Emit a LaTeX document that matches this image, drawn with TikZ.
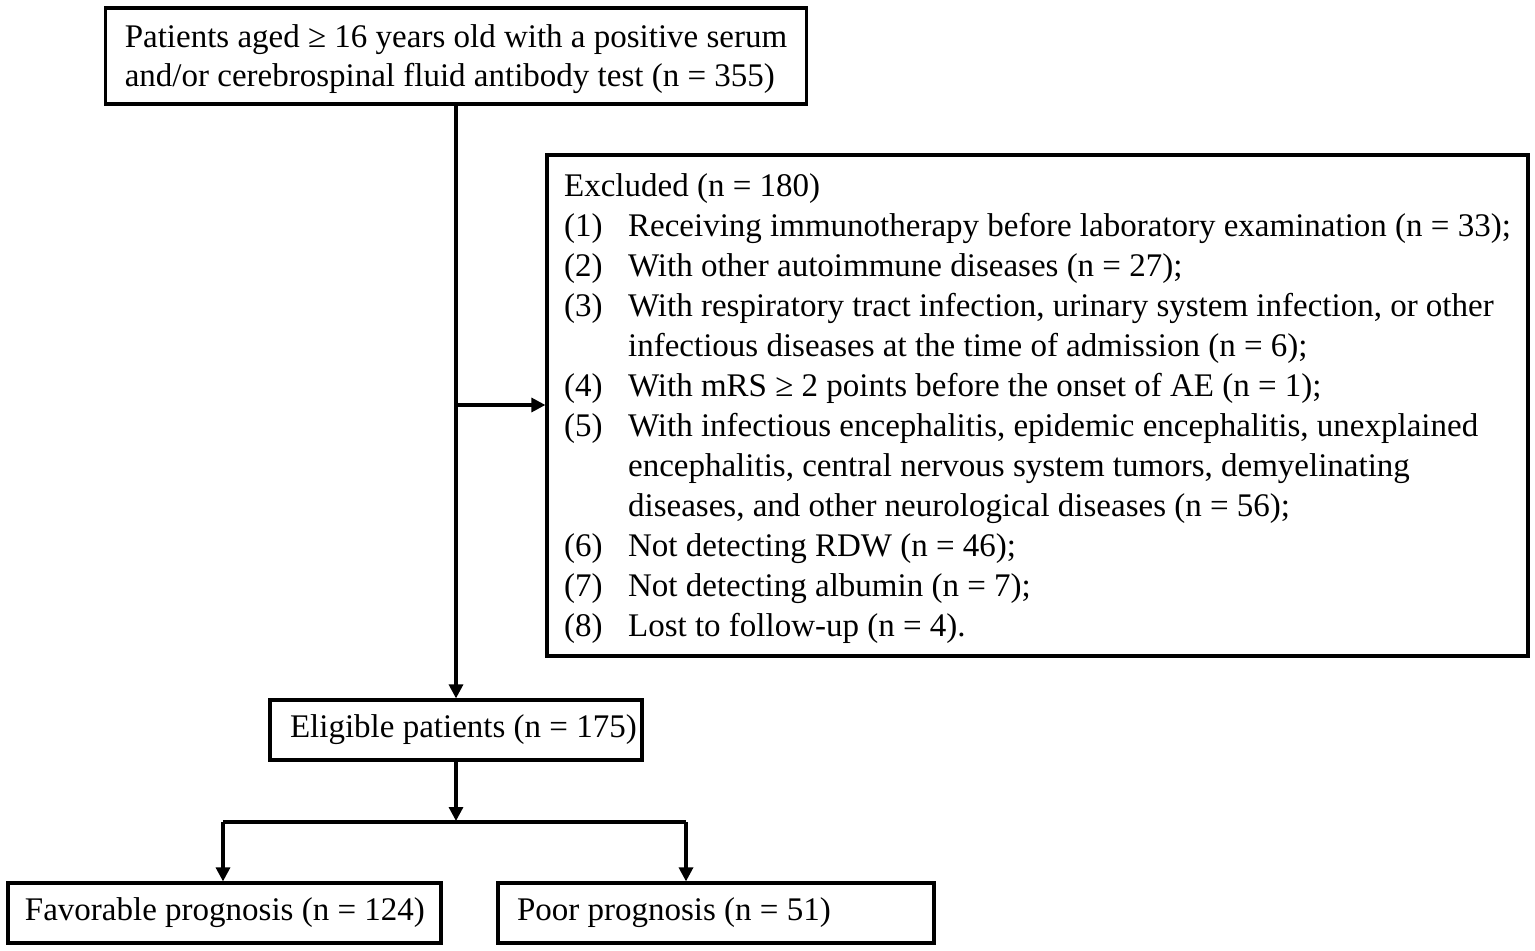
\documentclass[tikz,border=0pt]{standalone}
\usepackage{fontspec}
\usepackage{tikz}
\usetikzlibrary{arrows.meta}
\setmainfont{Liberation Serif}

\tikzset{
  box/.style={draw, line width=1.6pt, inner ysep=0pt, align=left, font=\fontsize{16.5}{19.5}\selectfont},
  leftbox/.style={box, align=flush left, inner xsep=9.5pt, text width=#1, minimum height=30pt},
  arr/.style={line width=1.6pt, -{Triangle[length=7pt,width=7pt]}},
  bar/.style={line width=1.6pt}
}

\begin{document}
\begin{tikzpicture}[x=0.5pt,y=-0.5pt]
\useasboundingbox (0,0) rectangle (1535,951);

% definitions
\node[box, inner xsep=0pt, minimum width=350.5pt, minimum height=48pt, text depth=0pt] (screen) at (456,56) {Patients aged ≥ 16 years old with a positive serum\\and/or cerebrospinal fluid antibody test (n = 355)} ;
\node[box, inner xsep=0pt, minimum width=490.5pt, minimum height=250.5pt, text depth=0pt, font=\fontsize{16.5}{20}\selectfont] (excl) at (1037.5,405.5) {Excluded (n = 180)\\
\makebox[32pt][l]{(1)}Receiving immunotherapy before laboratory examination (n = 33);\\
\makebox[32pt][l]{(2)}With other autoimmune diseases (n = 27);\\
\makebox[32pt][l]{(3)}With respiratory tract infection, urinary system infection, or other\\
\hspace*{32pt}infectious diseases at the time of admission (n = 6);\\
\makebox[32pt][l]{(4)}With mRS ≥ 2 points before the onset of AE (n = 1);\\
\makebox[32pt][l]{(5)}With infectious encephalitis, epidemic encephalitis, unexplained\\
\hspace*{32pt}encephalitis, central nervous system tumors, demyelinating\\
\hspace*{32pt}diseases, and other neurological diseases (n = 56);\\
\makebox[32pt][l]{(6)}Not detecting RDW (n = 46);\\
\makebox[32pt][l]{(7)}Not detecting albumin (n = 7);\\
\makebox[32pt][l]{(8)}Lost to follow-up (n = 4).} ;
\node[leftbox=166pt, inner xsep=10pt] (elig) at (456,730) {\mbox{Eligible patients (n = 175)}} ;
\node[leftbox=199.5pt, inner xsep=8.5pt] (fav) at (224.5,913) {\mbox{Favorable prognosis (n = 124)}} ;
\node[leftbox=199pt] (poor) at (716,913) {\mbox{Poor prognosis (n = 51)}} ;

\coordinate (split) at (456,405) ;
\coordinate (fork) at (456,821) ;
\coordinate (forkL) at (223,822) ;
\coordinate (forkR) at (686,822) ;

% drawing
\draw[arr] (screen.south) -- (elig.north) ;
\draw[arr] (split) -- (split -| excl.west) ;
\draw[arr] (elig.south) -- (fork) ;
\draw[bar] (forkL) -- (forkR) ;
\draw[arr] (forkL) -- (forkL |- fav.north) ;
\draw[arr] (forkR) -- (forkR |- poor.north) ;
\end{tikzpicture}
\end{document}
